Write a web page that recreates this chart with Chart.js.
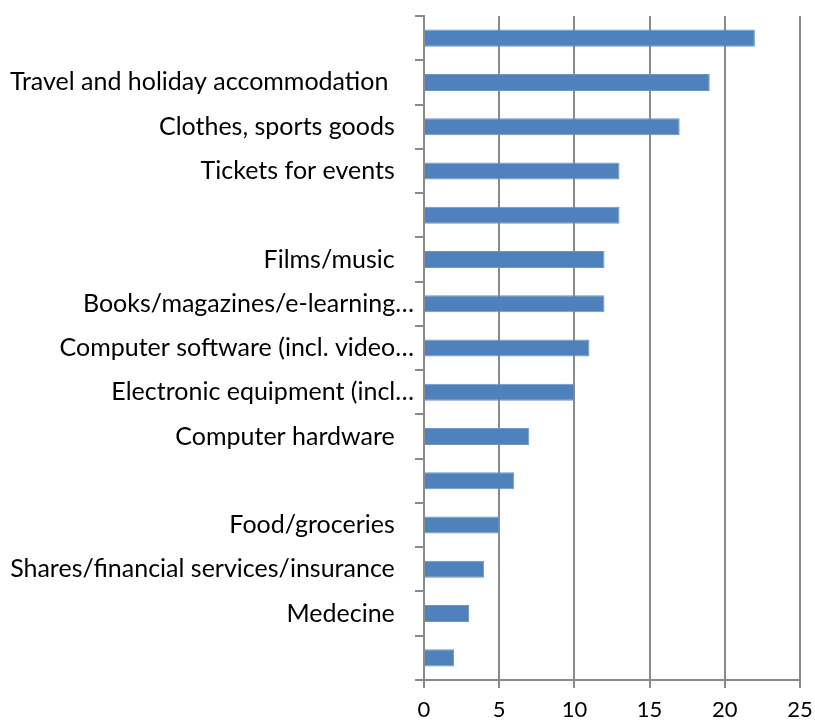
<!DOCTYPE html>
<html>
<head>
<meta charset="utf-8">
<script src="https://cdn.jsdelivr.net/npm/chart.js@4.4.1/dist/chart.umd.min.js"></script>
<style>
  body { margin: 0; background: #fff; }
  #wrap { width: 815px; height: 723px; }
</style>
</head>
<body>
<div id="wrap"><canvas id="barChart"></canvas></div>
<script>
// categories as shown on the axis (some labels are blank in the source)
const categories = [
    "",
    "Travel and holiday accommodation    ",
    "Clothes, sports goods   ",
    "Tickets for events   ",
    "",
    "Films/music   ",
    "Books/magazines/e-learning…",
    "Computer software (incl. video…",
    "Electronic equipment (incl…",
    "Computer hardware   ",
    "",
    "Food/groceries   ",
    "Shares/financial services/insurance   ",
    "Medecine   ",
    ""
];
const values = [22, 19, 17, 13, 13, 12, 12, 11, 10, 7, 6, 5, 4, 3, 2];
const xMin = 0;
const xMax = 25;
const xStep = 5;

const gridGrey = "#8a8a8a";

const ctx = document.getElementById("barChart").getContext("2d");
new Chart(ctx, {
    type: "bar",
    data: {
        labels: categories,
        datasets: [{
            data: values,
            backgroundColor: "#4f81bd",
            borderColor: "#6b95c8",
            borderWidth: 1,
            barPercentage: 0.77,
            categoryPercentage: 0.5
        }]
    },
    options: {
        indexAxis: "y",
        responsive: true,
        maintainAspectRatio: false,
        animation: false,
        layout: { padding: { top: 16, right: 0, left: 0, bottom: 0 } },
        plugins: {
            legend: { display: false },
            tooltip: { enabled: false }
        },
        scales: {
            x: {
                min: xMin,
                max: xMax,
                ticks: { stepSize: xStep, color: "#000", font: { family: "Lato", size: 22 }, padding: 9 },
                grid: { color: gridGrey, lineWidth: 2, tickLength: 8 },
                border: { display: true, color: gridGrey, width: 2 },
                afterFit: function (scale) {
                    scale.height = 43;
                    scale.paddingRight = 15;
                }
            },
            y: {
                ticks: { color: "#000", font: { family: "Lato", size: 25 }, padding: 1, autoSkip: false },
                grid: { drawOnChartArea: false, color: gridGrey, lineWidth: 2, tickLength: 9, offset: true },
                border: { display: true, color: gridGrey, width: 2 },
                afterFit: function (scale) { scale.width = 424; }
            }
        }
    }
});
</script>
</body>
</html>
